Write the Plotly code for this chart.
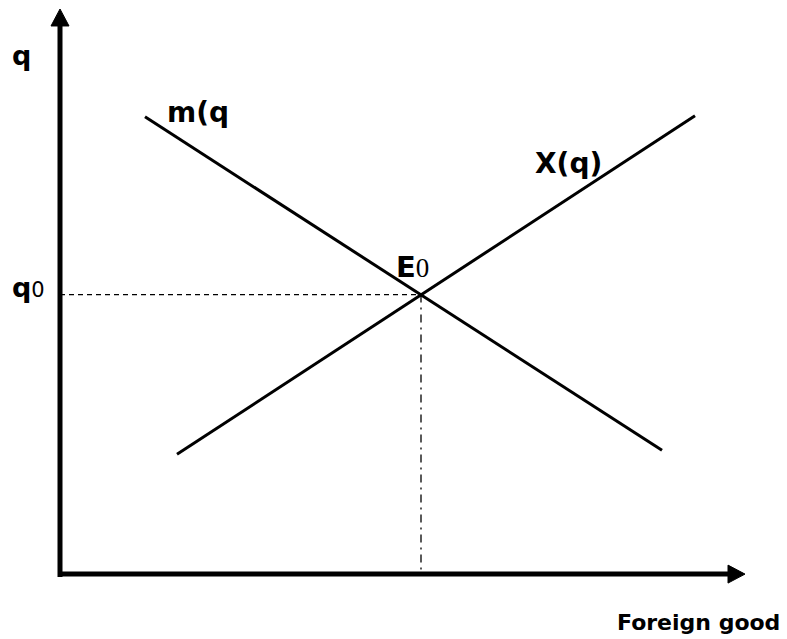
import plotly.graph_objects as go

# Data (arbitrary units; origin at axes corner)
m_x = [1.70, 12.04]
m_y = [9.16, 2.48]
X_x = [2.34, 12.70]
X_y = [2.40, 9.18]
E0_x = 7.22
E0_y = 5.60
axis_x_max = 13.70
axis_y_max = 11.32

# view range (page has an 8px body margin, figure is 779x631)
x_range = [-1.04, 14.54]
y_range = [-1.30, 11.34]

fig = go.Figure()

fig.add_trace(go.Scatter(x=m_x, y=m_y, mode="lines",
                         line=dict(color="black", width=3), hoverinfo="skip"))
fig.add_trace(go.Scatter(x=X_x, y=X_y, mode="lines",
                         line=dict(color="black", width=3), hoverinfo="skip"))
# guide lines
fig.add_trace(go.Scatter(x=[0, E0_x], y=[E0_y, E0_y], mode="lines",
                         line=dict(color="black", width=1.3, dash="5px,4px"), hoverinfo="skip"))
fig.add_trace(go.Scatter(x=[E0_x, E0_x], y=[E0_y, 0], mode="lines",
                         line=dict(color="black", width=1.3, dash="8px,5px,2px,5px"), hoverinfo="skip"))

# axes
ah_len = 0.34
ah_half = 0.18
fig.add_shape(type="line", x0=0, x1=0, y0=-0.06, y1=axis_y_max - ah_len,
              line=dict(color="black", width=5))
fig.add_shape(type="line", x0=-0.04, x1=axis_x_max - ah_len, y0=0, y1=0,
              line=dict(color="black", width=5))
fig.add_shape(type="path",
              path=f"M {-ah_half} {axis_y_max - ah_len} L 0 {axis_y_max} L {ah_half} {axis_y_max - ah_len} Z",
              fillcolor="black", line=dict(color="black", width=1))
fig.add_shape(type="path",
              path=f"M {axis_x_max - ah_len} {-ah_half} L {axis_x_max} 0 L {axis_x_max - ah_len} {ah_half} Z",
              fillcolor="black", line=dict(color="black", width=1))

bold = "DejaVu Sans"
anns = [
    dict(x=-0.78, y=10.38, text="<b>q</b>", xanchor="center", yanchor="middle",
         font=dict(family=bold, size=27, color="black")),
    dict(x=2.1, y=9.24, text="<b>m(q</b>", xanchor="left", yanchor="middle",
         font=dict(family=bold, size=28, color="black")),
    dict(x=9.46, y=8.22, text="<b>X(q)</b>", xanchor="left", yanchor="middle",
         font=dict(family=bold, size=28, color="black")),
    dict(x=6.68, y=6.16, text="<b>E</b><span style='font-family:Liberation Serif;font-size:27px'>0</span>",
         xanchor="left", yanchor="middle",
         font=dict(family=bold, size=29, color="black")),
    dict(x=-1.0, y=5.74, text="<b>q</b><span style='font-size:21px'>0</span>",
         xanchor="left", yanchor="middle",
         font=dict(family=bold, size=27, color="black")),
    dict(x=14.44, y=-0.96, text="<b>Foreign good</b>", xanchor="right", yanchor="middle",
         font=dict(family=bold, size=22, color="black")),
]
for a in anns:
    a.update(xref="x", yref="y", showarrow=False)
    fig.add_annotation(**a)

fig.update_layout(
    width=779, height=631,
    margin=dict(l=0, r=0, t=0, b=0),
    plot_bgcolor="white", paper_bgcolor="white",
    showlegend=False,
    xaxis=dict(range=x_range, visible=False, fixedrange=True),
    yaxis=dict(range=y_range, visible=False, fixedrange=True),
)

fig.write_html("out.html")
